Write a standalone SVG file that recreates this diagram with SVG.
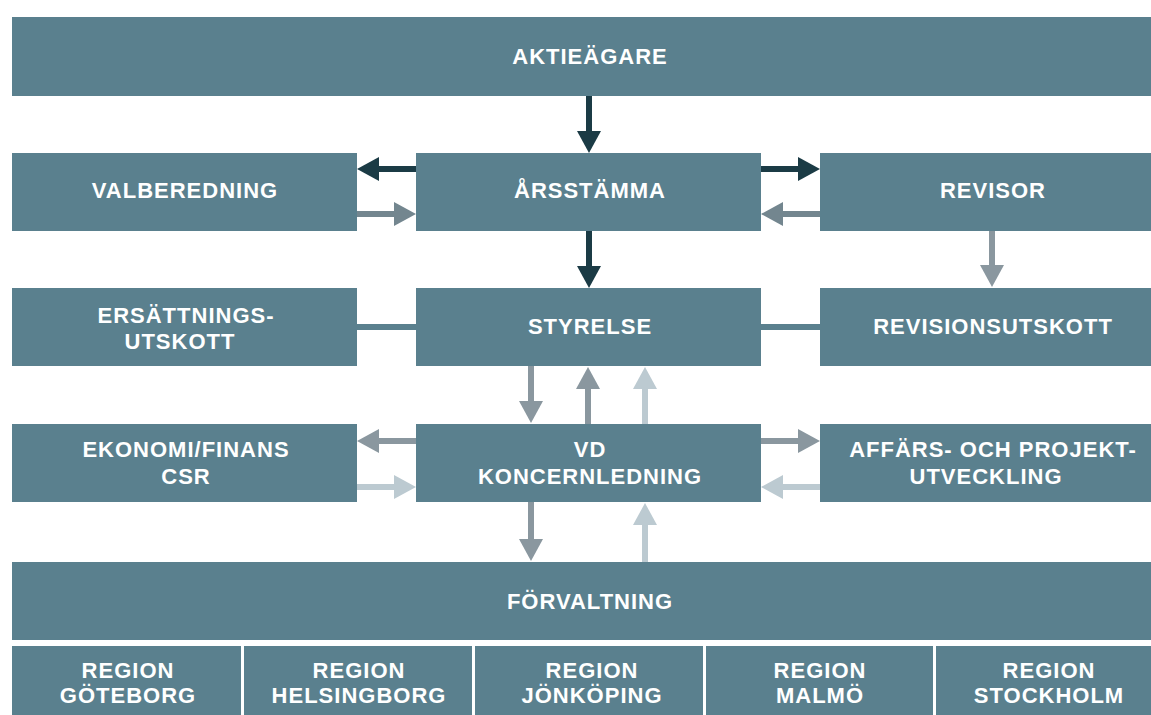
<svg xmlns="http://www.w3.org/2000/svg" width="1151" height="715" viewBox="0 0 1151 715">
<style>
.box{fill:#5a808e}
.t{font-family:"Liberation Sans",Arial,sans-serif;font-weight:bold;font-size:22px;letter-spacing:1px;fill:#ffffff;text-anchor:middle}
.c{stroke-width:6;fill:none}
.dk{stroke:#1b3b45}
.md{stroke:#73868f}
.gr{stroke:#8a979f}
.lt{stroke:#bccad1}
.ln{stroke:#5a808e}
</style>
<defs>
<marker id="aDk" viewBox="0 0 22 24" markerWidth="22" markerHeight="24" markerUnits="userSpaceOnUse" refX="0" refY="12" orient="auto"><path d="M0,0 L22,12 L0,24 z" fill="#1b3b45"/></marker>
<marker id="aMd" viewBox="0 0 22 24" markerWidth="22" markerHeight="24" markerUnits="userSpaceOnUse" refX="0" refY="12" orient="auto"><path d="M0,0 L22,12 L0,24 z" fill="#73868f"/></marker>
<marker id="aGr" viewBox="0 0 22 24" markerWidth="22" markerHeight="24" markerUnits="userSpaceOnUse" refX="0" refY="12" orient="auto"><path d="M0,0 L22,12 L0,24 z" fill="#8a979f"/></marker>
<marker id="aLt" viewBox="0 0 22 24" markerWidth="22" markerHeight="24" markerUnits="userSpaceOnUse" refX="0" refY="12" orient="auto"><path d="M0,0 L22,12 L0,24 z" fill="#bccad1"/></marker>
</defs>
<rect width="1151" height="715" fill="#ffffff"/>
<g id="connectors">
<line class="c dk" x1="589" y1="96" x2="589" y2="131" marker-end="url(#aDk)"/>
<line class="c dk" x1="416" y1="169" x2="379" y2="169" marker-end="url(#aDk)"/>
<line class="c md" x1="357" y1="214" x2="394" y2="214" marker-end="url(#aMd)"/>
<line class="c dk" x1="761" y1="169" x2="798" y2="169" marker-end="url(#aDk)"/>
<line class="c md" x1="820" y1="214" x2="783" y2="214" marker-end="url(#aMd)"/>
<line class="c dk" x1="589" y1="231" x2="589" y2="266" marker-end="url(#aDk)"/>
<line class="c gr" x1="992" y1="231" x2="992" y2="265" marker-end="url(#aGr)"/>
<line class="c ln" x1="357" y1="327" x2="416" y2="327"/>
<line class="c ln" x1="761" y1="327" x2="820" y2="327"/>
<line class="c gr" x1="531" y1="366" x2="531" y2="401" marker-end="url(#aGr)"/>
<line class="c gr" x1="588" y1="424" x2="588" y2="389" marker-end="url(#aGr)"/>
<line class="c lt" x1="645" y1="424" x2="645" y2="389" marker-end="url(#aLt)"/>
<line class="c gr" x1="416" y1="441" x2="379" y2="441" marker-end="url(#aGr)"/>
<line class="c lt" x1="357" y1="487" x2="394" y2="487" marker-end="url(#aLt)"/>
<line class="c gr" x1="761" y1="441" x2="798" y2="441" marker-end="url(#aGr)"/>
<line class="c lt" x1="820" y1="487" x2="783" y2="487" marker-end="url(#aLt)"/>
<line class="c gr" x1="531" y1="502" x2="531" y2="539" marker-end="url(#aGr)"/>
<line class="c lt" x1="645" y1="562" x2="645" y2="525" marker-end="url(#aLt)"/>
</g>
<g id="aktieagare"><rect class="box" x="12" y="17" width="1139" height="79"/><text class="t" x="590" y="64">AKTIEÄGARE</text></g>
<g id="valberedning"><rect class="box" x="12" y="153" width="345" height="78"/><text class="t" x="185" y="198">VALBEREDNING</text></g>
<g id="arsstamma"><rect class="box" x="416" y="153" width="345" height="78"/><text class="t" x="590" y="198">ÅRSSTÄMMA</text></g>
<g id="revisor"><rect class="box" x="820" y="153" width="331" height="78"/><text class="t" x="993" y="198">REVISOR</text></g>
<g id="ersattningsutskott"><rect class="box" x="12" y="288" width="345" height="78"/><text class="t" x="186" y="323">ERSÄTTNINGS-</text><text class="t" x="180" y="349">UTSKOTT</text></g>
<g id="styrelse"><rect class="box" x="416" y="288" width="345" height="78"/><text class="t" x="590" y="334">STYRELSE</text></g>
<g id="revisionsutskott"><rect class="box" x="820" y="288" width="331" height="78"/><text class="t" x="993" y="334">REVISIONSUTSKOTT</text></g>
<g id="ekonomi"><rect class="box" x="12" y="424" width="345" height="78"/><text class="t" x="186" y="457">EKONOMI/FINANS</text><text class="t" x="186" y="484">CSR</text></g>
<g id="vd"><rect class="box" x="416" y="424" width="345" height="78"/><text class="t" x="590" y="457">VD</text><text class="t" x="590" y="484">KONCERNLEDNING</text></g>
<g id="affars"><rect class="box" x="820" y="424" width="331" height="78"/><text class="t" x="993" y="457">AFFÄRS- OCH PROJEKT-</text><text class="t" x="986" y="484">UTVECKLING</text></g>
<g id="forvaltning"><rect class="box" x="12" y="562" width="1139" height="78"/><text class="t" x="590" y="609">FÖRVALTNING</text></g>
<g id="region-goteborg"><rect class="box" x="12" y="646" width="229" height="69"/><text class="t" x="128" y="678">REGION</text><text class="t" x="128" y="703">GÖTEBORG</text></g>
<g id="region-helsingborg"><rect class="box" x="244" y="646" width="228" height="69"/><text class="t" x="359" y="678">REGION</text><text class="t" x="359" y="703">HELSINGBORG</text></g>
<g id="region-jonkoping"><rect class="box" x="475" y="646" width="228" height="69"/><text class="t" x="592" y="678">REGION</text><text class="t" x="592" y="703">JÖNKÖPING</text></g>
<g id="region-malmo"><rect class="box" x="706" y="646" width="227" height="69"/><text class="t" x="820" y="678">REGION</text><text class="t" x="820" y="703">MALMÖ</text></g>
<g id="region-stockholm"><rect class="box" x="936" y="646" width="215" height="69"/><text class="t" x="1049" y="678">REGION</text><text class="t" x="1049" y="703">STOCKHOLM</text></g>
</svg>
